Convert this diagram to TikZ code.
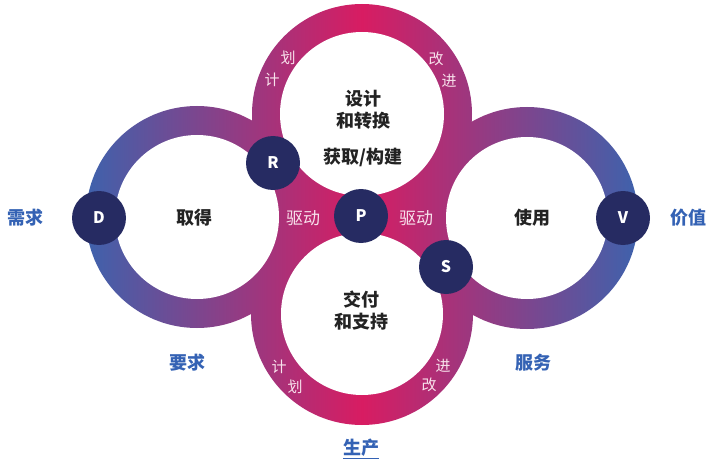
\documentclass[tikz,border=0pt]{standalone}
\usepackage{fontspec}
\newfontfamily\cjk{Noto Sans CJK SC}
\usetikzlibrary{positioning}
\definecolor{ringblue}{RGB}{62,98,172}
\definecolor{ringred}{RGB}{216,28,98}
\definecolor{navy}{RGB}{38,43,98}
\definecolor{lblue}{RGB}{52,98,180}
\definecolor{ink}{RGB}{35,35,35}
\definecolor{pale}{RGB}{248,226,236}

\begin{document}
\begin{tikzpicture}[
  x=1pt, y=-1pt,
  hub/.style={circle, fill=navy, minimum size=54pt, inner sep=0pt, text=white,
    font=\cjk\bfseries\fontsize{16}{16}\selectfont},
  inside/.style={text=ink, align=center, font=\cjk\bfseries\fontsize{18}{22}\selectfont},
  outside/.style={text=lblue, font=\cjk\bfseries\fontsize{18}{20}\selectfont},
  onring/.style={text=pale, font=\cjk\fontsize{15}{15}\selectfont},
  drive/.style={text=pale, font=\cjk\fontsize{17}{17}\selectfont}
]
  \useasboundingbox (0,0) rectangle (720,468);

  % ring centres
  \coordinate (cl) at (197,217);
  \coordinate (cr) at (527,218);
  \coordinate (ct) at (362,114);
  \coordinate (cb) at (362,314);

  % rings (outer discs plus the middle patch, then the holes)
  \shade[left color=ringblue, right color=ringblue, middle color=ringred]
    (cl) circle[radius=111pt] (cr) circle[radius=111pt]
    (ct) circle[radius=110pt] (cb) circle[radius=111pt]
    (cl) -- (cb) -- (cr) -- (ct) -- cycle;
  \fill[white]
    (cl) circle[radius=82pt] (cr) circle[radius=81pt]
    (ct) circle[radius=82pt] (cb) circle[radius=81pt];

  % texts inside the rings
  \node[inside] (get) at (194,218) {取得};
  \node[inside] (use) at (532,218) {使用};
  \node[inside] (design) at (363,110) {设计\\和转换};
  \node[inside] (build) at (363,157) {获取/构建};
  \node[inside] (deliver) at (361,311) {交付\\和支持};

  % texts on the rings
  \node[onring] (plan1) at (272,80) {计};
  \node[onring] (plan2) at (288,58) {划};
  \node[onring] (impr1) at (436,59) {改};
  \node[onring] (impr2) at (449,81) {进};
  \node[onring] (plan3) at (279,367) {计};
  \node[onring] (plan4) at (295,387) {划};
  \node[onring] (impr3) at (443,366) {进};
  \node[onring] (impr4) at (429,385) {改};
  \node[drive] (drvl) at (303,218) {驱动};
  \node[drive] (drvr) at (416,218) {驱动};

  % hubs
  \node[hub] (D) at (99,218) {D};
  \node[hub] (R) at (273,163) {R};
  \node[hub] (P) at (361,216) {P};
  \node[hub] (S) at (446,267) {S};
  \node[hub] (V) at (623,218) {V};

  % outer labels
  \node[outside] (need) at (25,218) {需求};
  \node[outside] (value) at (688,218) {价值};
  \node[outside] (req) at (187,363) {要求};
  \node[outside] (serv) at (533,363) {服务};
  \node[outside] (prod) at (361,449) {\underline{生产}};
\end{tikzpicture}
\end{document}
